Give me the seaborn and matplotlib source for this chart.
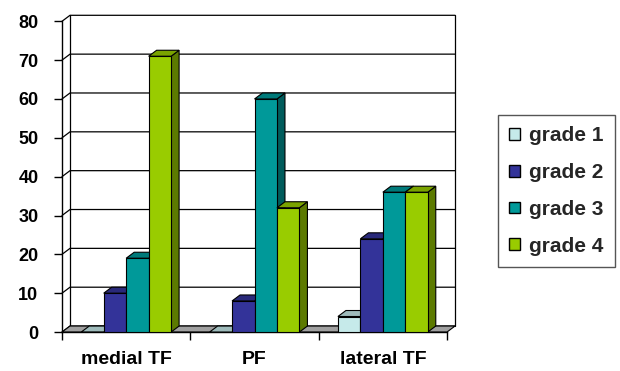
import numpy as np
import pandas as pd
import seaborn as sns
import matplotlib.pyplot as plt
from matplotlib.patches import Polygon, Patch
from matplotlib.colors import to_rgb

sites = ['medial TF', 'PF', 'lateral TF']
grades = ['grade 1', 'grade 2', 'grade 3', 'grade 4']
grade1 = [0, 0, 4]
grade2 = [10, 8, 24]
grade3 = [19, 60, 36]
grade4 = [71, 32, 36]
yticks = [0, 10, 20, 30, 40, 50, 60, 70, 80]

colors = ['#c6eaea', '#333399', '#009999', '#99cc00']

# fake 3D depth, in pixels
DEPTH_X = 8
DEPTH_Y = 6

sns.set_theme(style='white')
plt.rcParams['font.family'] = ['Liberation Sans', 'DejaVu Sans']
plt.rcParams['font.weight'] = 'bold'

df = pd.DataFrame({
    'site': sites * 4,
    'grade': np.repeat(grades, len(sites)),
    'value': grade1 + grade2 + grade3 + grade4,
})

fig = plt.figure(figsize=(6.2, 3.71), dpi=100)
ax = fig.add_axes([0.1, 0.105, 0.621, 0.8376])

sns.barplot(data=df, x='site', y='value', hue='grade', palette=colors,
            width=0.7, saturation=1, edgecolor='black', linewidth=0.8,
            legend=False, ax=ax)
ax.set_xlim(-0.5, 2.5)
ax.set_ylim(0, 80)

bbox = ax.get_window_extent()
ddx = DEPTH_X / (bbox.width / 3)
ddy = DEPTH_Y / (bbox.height / 80)


def shade(c, f):
    return tuple(v * f for v in to_rgb(c))


# back wall + gridlines
x0, x1 = ax.get_xlim()
for v in yticks:
    ax.plot([x0, x0 + ddx, x1 + ddx], [v, v + ddy, v + ddy], color='black',
            lw=0.9, zorder=1, clip_on=False)
ax.plot([x0 + ddx] * 2, [ddy, 80 + ddy], color='black', lw=0.9, zorder=1, clip_on=False)
ax.plot([x1 + ddx] * 2, [ddy, 80 + ddy], color='black', lw=0.9, zorder=1, clip_on=False)
ax.add_patch(Polygon([(x0, 0), (x1, 0), (x1 + ddx, ddy), (x0 + ddx, ddy)],
                     facecolor='#a0a0a0', edgecolor='black', lw=0.8,
                     zorder=1.5, clip_on=False))

# 3D sides and tops for each bar, left to right
bars = sorted([p for c in ax.containers for p in c], key=lambda p: p.get_x())
for i, p in enumerate(bars):
    bx, w, h = p.get_x(), p.get_width(), p.get_height()
    fc = p.get_facecolor()
    p.set_zorder(3 + 2 * i)
    top = Polygon([(bx, h), (bx + w, h), (bx + w + ddx, h + ddy), (bx + ddx, h + ddy)],
                  facecolor=shade(fc, 0.8), edgecolor='black', lw=0.8,
                  zorder=2 + 2 * i, clip_on=False)
    side = Polygon([(bx + w, 0), (bx + w + ddx, ddy), (bx + w + ddx, h + ddy), (bx + w, h)],
                   facecolor=shade(fc, 0.6), edgecolor='black', lw=0.8,
                   zorder=2 + 2 * i, clip_on=False)
    ax.add_patch(side)
    ax.add_patch(top)

sns.despine(ax=ax, top=True, right=True)
for s in ['left', 'bottom']:
    ax.spines[s].set_color('black')
    ax.spines[s].set_linewidth(1)

ax.set_yticks(yticks)
ax.set_xticks([-0.5, 0.5, 1.5, 2.5], minor=True)
ax.tick_params(axis='y', left=True, direction='out', length=6, width=1,
               pad=11, labelsize=13, colors='black')
ax.tick_params(axis='x', which='major', bottom=True, length=0, pad=14,
               labelsize=14, colors='black')
ax.tick_params(axis='x', which='minor', bottom=True, direction='out',
               length=6, width=1, color='black')
ax.set_xlabel('')
ax.set_ylabel('')

handles = [Patch(facecolor=c, edgecolor='black', lw=1) for c in colors]
fig.legend(handles, grades, loc='upper left',
           bbox_to_anchor=(498 / 620, 1 - 115 / 371), frameon=True,
           fancybox=False, edgecolor='#555555', framealpha=1,
           handlelength=0.5, handleheight=0.5, handletextpad=0.45,
           labelspacing=0.85, borderpad=0.55, borderaxespad=0, fontsize=15)

fig.savefig('out.png', dpi=100)
